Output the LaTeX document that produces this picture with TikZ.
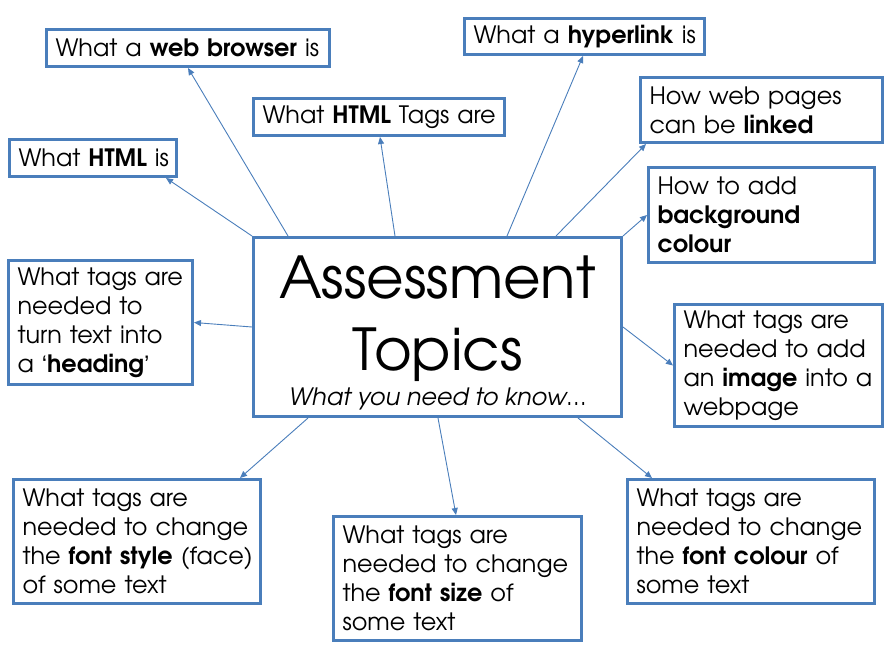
\documentclass[tikz,border=0pt]{standalone}
\usepackage{fontspec}
\setmainfont{TeX Gyre Adventor}
\newfontfamily\qfont{Liberation Sans}
\usetikzlibrary{arrows.meta}
\definecolor{bl}{HTML}{4A7EBB}
\newcommand{\lne}[1]{\mbox{#1}}
\begin{document}
\begin{tikzpicture}[x=1bp,y=-1bp,
  box/.style={draw=bl, line width=3bp, fill=white, anchor=north west, inner xsep=9bp, inner ysep=0bp, align=left, font=\fontsize{24}{29}\selectfont},
  arr/.style={draw=bl, line width=0.9bp, -{Triangle[length=7bp,width=6bp]}},
  ttl/.style={anchor=base, inner sep=0pt}
]
\useasboundingbox (0,0) rectangle (892,654);
\node[box, minimum width=368bp, minimum height=179bp] (c) at (252,236) {};
\node[ttl, font=\fontsize{58}{58}\selectfont] (t1) at ([yshift=-62bp]c.north) {Assessment};
\node[ttl, font=\fontsize{58}{58}\selectfont] (t2) at ([yshift=-134bp]c.north) {Topics};
\node[ttl, font=\fontsize{24}{24}\selectfont\itshape] (t3) at ([yshift=-169bp]c.north) {What you need to know…};

\node[box, minimum width=283bp, minimum height=37bp, text width=265bp] (browser) at (45,28) {\lne{What a \textbf{web browser} is}};
\node[box, minimum width=251bp, minimum height=37bp, text width=233bp] (tags) at (252,97) {\lne{What \textbf{HTML} Tags are}};
\node[box, minimum width=167bp, minimum height=37bp, text width=149bp] (html) at (8,138) {\lne{What \textbf{HTML} is}};
\node[box, minimum width=184bp, minimum height=124bp, text width=166bp] (heading) at (7,259) {\lne{What tags are}\\\lne{needed to}\\\lne{turn text into}\\\lne{a {\qfont ‘}\textbf{heading}{\qfont ’}}};
\node[box, minimum width=240bp, minimum height=36bp, text width=222bp] (hyper) at (463,17) {\lne{What a \textbf{hyperlink} is}};
\node[box, minimum width=242bp, minimum height=65bp, text width=224bp] (linked) at (639,76) {\lne{How web pages}\\\lne{can be \textbf{linked}}};
\node[box, minimum width=226bp, minimum height=95bp, text width=208bp] (bg) at (647,166) {\lne{How to add}\\\lne{\textbf{background}}\\\lne{\textbf{colour}}};
\node[box, minimum width=208bp, minimum height=122bp, text width=190bp] (image) at (673,303) {\lne{What tags are}\\\lne{needed to add}\\\lne{an \textbf{image} into a}\\\lne{webpage}};
\node[box, minimum width=247bp, minimum height=124bp, text width=229bp] (style) at (12,478) {\lne{What tags are}\\\lne{needed to change}\\\lne{the \textbf{font style} (face)}\\\lne{of some text}};
\node[box, minimum width=248bp, minimum height=124bp, text width=230bp] (size) at (332,515) {\lne{What tags are}\\\lne{needed to change}\\\lne{the \textbf{font size} of}\\\lne{some text}};
\node[box, minimum width=247bp, minimum height=124bp, text width=229bp] (colour) at (626,478) {\lne{What tags are}\\\lne{needed to change}\\\lne{the \textbf{font colour} of}\\\lne{some text}};

\draw[arr] ([xshift=36bp]c.north west) -- ([xshift=143bp]browser.south west);
\draw[arr] (c.north west) -- ([xshift=-12bp]html.south east);
\draw[arr] ([xshift=143bp]c.north west) -- ([xshift=128bp]tags.south west);
\draw[arr] ([xshift=255bp]c.north west) -- ([xshift=120bp]hyper.south west);
\draw[arr] ([xshift=304bp]c.north west) -- ([xshift=7bp]linked.south west);
\draw[arr] (c.north east) -- (bg.west);
\draw[arr] (c.west) -- (heading.east);
\draw[arr] (c.east) -- (image.west);
\draw[arr] ([xshift=56bp]c.south west) -- ([xshift=228bp]style.north west);
\draw[arr] ([xshift=186bp]c.south west) -- ([xshift=124bp]size.north west);
\draw[arr] ([xshift=326bp]c.south west) -- ([xshift=26bp]colour.north west);
\end{tikzpicture}
\end{document}
